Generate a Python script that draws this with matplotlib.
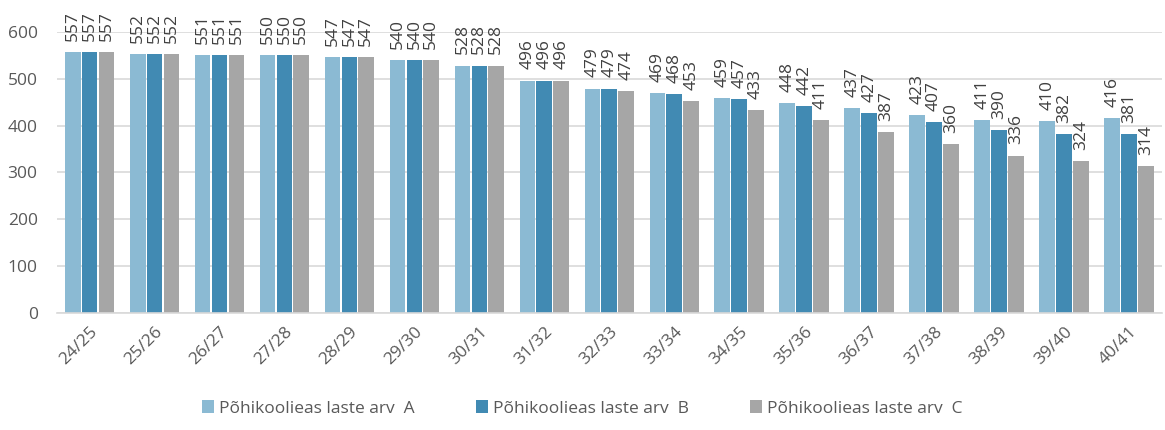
import matplotlib
matplotlib.use("Agg")
import matplotlib.pyplot as plt
import numpy as np

YEARS = ["24/25", "25/26", "26/27", "27/28", "28/29", "29/30", "30/31", "31/32", "32/33",
         "33/34", "34/35", "35/36", "36/37", "37/38", "38/39", "39/40", "40/41"]
SERIES_A = [557, 552, 551, 550, 547, 540, 528, 496, 479, 469, 459, 448, 437, 423, 411, 410, 416]
SERIES_B = [557, 552, 551, 550, 547, 540, 528, 496, 479, 468, 457, 442, 427, 407, 390, 382, 381]
SERIES_C = [557, 552, 551, 550, 547, 540, 528, 496, 474, 453, 433, 411, 387, 360, 336, 324, 314]
NAMES = ["Põhikoolieas laste arv  A", "Põhikoolieas laste arv  B", "Põhikoolieas laste arv  C"]
Y_TICKS = [0, 100, 200, 300, 400, 500, 600]

COLORS = ["#8BBAD3", "#418AB3", "#A6A6A6"]
TEXT = "#595959"

plt.rcParams["font.family"] = ["Open Sans", "DejaVu Sans"]

fig = plt.figure(figsize=(11.65, 4.30), dpi=100)
ax = fig.add_axes([0.049, 0.272, 0.948, 0.654])

x = np.arange(len(YEARS))
width = 0.242
offsets = [-0.26, 0.0, 0.26]
for vals, name, color, off in zip([SERIES_A, SERIES_B, SERIES_C], NAMES, COLORS, offsets):
    bars = ax.bar(x + off, vals, width, color=color, label=name, zorder=2)
    for b, v in zip(bars, vals):
        ax.annotate(str(v), (b.get_x() + b.get_width() / 2, v), xytext=(0, 8),
                    textcoords="offset points", rotation=90, ha="center", va="bottom",
                    fontsize=12.5, color="#404040", annotation_clip=False)

ax.set_xlim(-0.5, len(YEARS) - 0.5)
ax.set_ylim(0, 600)
ax.set_yticks(Y_TICKS)
ax.set_xticks(x)
ax.set_xticklabels(YEARS, rotation=45, ha="right", rotation_mode="anchor")
ax.tick_params(axis="both", length=0, labelsize=12.5, labelcolor=TEXT)
ax.tick_params(axis="x", pad=8)
ax.tick_params(axis="y", pad=14)
ax.grid(axis="y", color="#D9D9D9", linewidth=1.2, zorder=0)
for side in ["top", "right", "left"]:
    ax.spines[side].set_visible(False)
ax.spines["bottom"].set_color("#D9D9D9")
ax.spines["bottom"].set_linewidth(1.2)

fig.legend(loc="lower center", bbox_to_anchor=(0.5, -0.005), ncol=3, frameon=False,
           fontsize=12.5, labelcolor=TEXT, handlelength=0.7, handleheight=0.7,
           handletextpad=0.3, columnspacing=3.5)

fig.savefig("out.png", dpi=100)
